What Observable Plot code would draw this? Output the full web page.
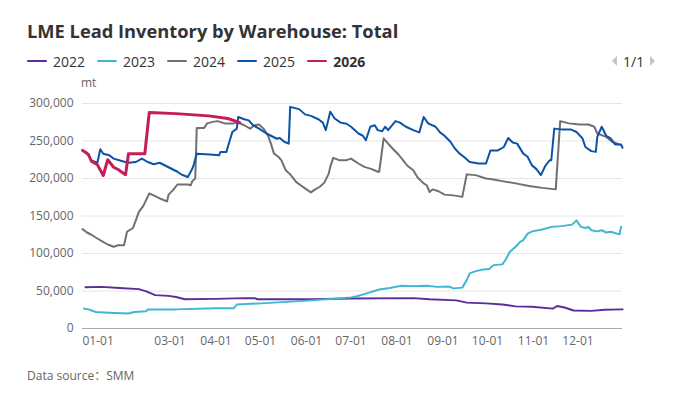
<!DOCTYPE html>
<html><head><meta charset="utf-8">
<script src="https://cdn.jsdelivr.net/npm/d3@7"></script>
<script src="https://cdn.jsdelivr.net/npm/@observablehq/plot@0.6"></script>
<style>
body{margin:0;background:#fff;font-family:"Open Sans",sans-serif;}
#wrap{position:relative;width:678px;height:398px;overflow:hidden;background:#fff;}
#title{position:absolute;left:27px;top:20px;height:22px;line-height:22px;font-size:18.3px;font-weight:700;color:#333;white-space:nowrap;}
#legend{position:absolute;left:27px;top:51px;height:20px;display:flex;align-items:center;gap:12px;font-size:14px;color:#333;}
.item{display:flex;align-items:center;}
.sw{width:20px;height:2.5px;margin-right:6px;border-radius:1px;}
#pager{position:absolute;left:612px;top:51px;height:20px;display:flex;align-items:center;font-size:14px;color:#333;}
.tl{width:0;height:0;border-top:5px solid transparent;border-bottom:5px solid transparent;border-right:5px solid #c4c4c4;margin-right:6px;}
.tr{width:0;height:0;border-top:5px solid transparent;border-bottom:5px solid transparent;border-left:5px solid #c4c4c4;margin-left:6px;}
#unit{position:absolute;left:81px;top:75px;line-height:16px;font-size:12px;color:#666;}
#chart{position:absolute;left:0;top:70px;}
#caption{position:absolute;left:27px;top:367px;line-height:16px;font-size:12px;color:#666;font-family:"Open Sans","Noto Sans CJK SC",sans-serif;}
</style></head><body>
<div id="wrap">
<div id="title">LME Lead Inventory by Warehouse: Total</div>
<div id="legend"></div>
<div id="pager"><div class="tl"></div><span>1/1</span><div class="tr"></div></div>
<div id="unit">mt</div>
<div id="chart"></div>
<div id="caption">Data source<span lang="zh-CN" style="font-family:'Noto Sans CJK SC'">：</span>SMM</div>
</div>
<script>
const years = ["2022", "2023", "2024", "2025", "2026"];
const colors = ["#5a2d9c", "#41b6d0", "#707070", "#0b53a8", "#c41d57"];

const dates2022 = ["01-03","01-14","01-26","02-08","02-13","02-19","02-28","03-05","03-11","04-01","04-20","04-27","04-29","06-04","07-01","08-12","08-23","09-10","09-17","09-30","10-11","10-20","10-31","11-14","11-17","11-22","11-28","12-10","12-19","12-31"];
const values2022 = [55000,55500,54000,52500,49500,44500,43500,42000,39000,39500,40500,40500,39000,39000,40000,40500,39000,37500,34500,33500,32000,29500,29000,26500,30000,28000,24000,23500,25000,25500];

const dates2023 = ["01-02","01-05","01-10","01-19","02-01","02-05","02-13","02-14","03-05","04-01","04-13","04-15","05-01","05-19","06-04","06-22","07-01","07-05","07-11","07-20","07-27","08-04","08-12","08-21","08-28","09-05","09-08","09-14","09-17","09-19","09-23","09-29","10-02","10-05","10-11","10-13","10-16","10-20","10-23","10-25","10-28","10-31","11-07","11-13","11-20","11-27","11-30","12-03","12-06","12-08","12-10","12-14","12-17","12-20","12-23","12-29","12-30"];
const values2023 = [26500,25500,22000,21000,20000,22000,23000,25500,25500,27000,27000,32000,33500,35500,37500,40000,41500,43000,46500,52000,54000,57000,56500,57000,55500,56000,53500,54500,64500,73500,76500,79000,79000,84500,85500,91000,102000,109000,115500,117500,126500,129500,132000,135500,136500,138500,144000,135500,134000,135500,131000,129500,131000,128000,129000,125500,135500];

const dates2024 = ["01-01","01-04","01-07","01-11","01-14","01-18","01-22","01-25","01-29","01-31","02-04","02-06","02-08","02-11","02-15","02-18","02-22","02-25","02-27","02-28","03-03","03-06","03-13","03-15","03-16","03-18","03-19","03-24","03-26","03-30","04-02","04-07","04-13","04-16","04-20","04-24","04-27","04-30","05-03","05-06","05-08","05-10","05-13","05-15","05-18","05-21","05-25","05-28","06-01","06-04","06-06","06-10","06-13","06-16","06-17","06-19","06-23","06-28","07-01","07-06","07-10","07-15","07-19","07-20","07-23","07-26","07-29","08-02","08-05","08-08","08-12","08-15","08-19","08-21","08-23","08-25","08-29","09-02","09-08","09-14","09-17","09-23","09-30","10-04","10-11","10-20","10-29","11-07","11-16","11-19","11-25","12-02","12-08","12-12","12-14","12-20","12-24","12-29"];
const values2024 = [132500,128000,125000,120000,116500,112000,109000,111000,111000,129000,134000,144500,155500,163500,180000,177500,173500,171000,169500,178500,184500,192000,192000,191000,196500,200000,267500,267500,273500,275500,276500,273500,273500,274500,271000,266500,271000,272000,266500,257500,246500,233500,229000,224500,211000,205500,195500,191000,185500,181500,184500,189000,194500,206500,215500,227500,224500,224500,226500,220000,215500,212500,209000,209000,253500,246500,240000,232000,224500,217000,211000,201000,193500,191000,182000,185500,183000,178500,177500,175500,205500,204500,200000,199000,196500,193500,190000,187500,185500,276500,273500,272000,272000,269000,260000,255500,249000,245500];

const dates2025 = ["01-01","01-04","01-07","01-11","01-13","01-15","01-19","01-22","01-28","02-01","02-06","02-10","02-14","02-18","02-22","02-26","03-03","03-06","03-09","03-13","03-16","03-17","03-19","03-28","04-03","04-04","04-08","04-10","04-12","04-15","04-16","04-20","04-23","04-26","04-30","05-05","05-08","05-12","05-14","05-17","05-20","05-21","05-27","05-31","06-04","06-09","06-12","06-14","06-17","06-20","06-24","06-28","07-01","07-06","07-09","07-11","07-14","07-17","07-19","07-22","07-24","07-26","07-31","08-03","08-07","08-12","08-16","08-19","08-22","08-27","08-30","09-02","09-06","09-09","09-12","09-15","09-19","09-25","09-30","10-03","10-08","10-12","10-15","10-18","10-21","10-25","10-28","10-31","11-03","11-06","11-09","11-12","11-13","11-15","11-20","11-26","11-30","12-04","12-06","12-10","12-13","12-14","12-17","12-20","12-23","12-26","12-30","12-31"];
const values2025 = [237500,234500,224000,221000,239000,233000,231000,226500,223000,221000,222000,226500,222000,219000,221000,217000,212000,209000,205000,202000,213000,218500,233000,232000,231000,235500,235500,249000,262000,266500,282000,279000,277500,271000,266500,260000,257000,253000,254000,249000,246500,295500,292500,285500,283500,279000,274500,264500,289000,280000,274500,273000,269000,260000,257000,251000,269000,271000,264500,263000,269000,264500,276500,274500,269000,264500,261500,282000,273500,269000,261500,257000,249000,240000,233500,229000,222000,220000,220000,237500,237500,242000,254000,248000,246500,233500,229000,217500,212500,204500,217000,224500,224500,266500,265500,265500,262000,253500,242000,236500,235500,255500,269000,257000,253500,245500,245500,241000];

const dates2026 = ["01-01","01-05","01-07","01-11","01-15","01-18","01-22","01-25","01-30","02-01","02-12","02-15","03-05","03-27","04-09","04-17"];
const values2026 = [237500,232000,223000,218500,204000,225000,215000,212000,205000,233000,233000,288000,286500,283500,280000,274500];

const yTicks = [0, 50000, 100000, 150000, 200000, 250000, 300000];
const xTickLabels = ["03-01","04-01","05-01","06-01","07-01","08-01","09-01","10-01","11-01","12-01"];
const firstTickLabel = "01-01";

const toDate = s => new Date(Date.UTC(2001, +s.slice(0, 2) - 1, +s.slice(3, 5)));
const fmt = d3.utcFormat("%m-%d");

const seriesDates = [dates2022, dates2023, dates2024, dates2025, dates2026];
const seriesValues = [values2022, values2023, values2024, values2025, values2026];
const series = years.map((y, i) => seriesDates[i].map((d, j) => ({year: y, date: toDate(d), value: seriesValues[i][j]})));

// legend
const legend = document.getElementById("legend");
years.forEach((y, i) => {
  const it = document.createElement("div");
  it.className = "item";
  const sw = document.createElement("div");
  sw.className = "sw";
  sw.style.background = colors[i];
  const tx = document.createElement("span");
  tx.textContent = y;
  if (i === years.length - 1) tx.style.fontWeight = "700";
  it.appendChild(sw); it.appendChild(tx);
  legend.appendChild(it);
});

const lineMarks = series.map((rows, i) => Plot.line(rows, {
  x: "date", y: "value", stroke: colors[i],
  strokeWidth: i === years.length - 1 ? 3 : 2,
  strokeLinejoin: "round", strokeLinecap: "round"
}));

const chart = Plot.plot({
  width: 678,
  height: 290,
  marginLeft: 82,
  marginRight: 56,
  marginTop: 33,
  marginBottom: 32,
  style: {fontFamily: "'Open Sans', sans-serif", fontSize: "12px", color: "#666", background: "transparent", overflow: "visible"},
  x: {type: "utc", domain: [toDate("01-01"), toDate("12-31")]},
  y: {domain: [0, 300000]},
  marks: [
    Plot.gridY(yTicks, {stroke: "#e6e6e6", strokeOpacity: 1}),
    Plot.ruleY([0], {stroke: "#a8a9b2", strokeWidth: 1}),
    Plot.axisY(yTicks, {tickSize: 0, tickPadding: 9, tickFormat: d3.format(","), label: null, fill: "#666"}),
    Plot.axisX(xTickLabels.map(toDate), {tickSize: 0, tickPadding: 8, tickFormat: fmt, label: null, fill: "#666"}),
    Plot.text([toDate(firstTickLabel)], {x: d => d, text: d => fmt(d), frameAnchor: "bottom", lineAnchor: "top", textAnchor: "start", dy: 8, fill: "#666"}),
    ...lineMarks
  ]
});
document.getElementById("chart").appendChild(chart);
</script>
</body></html>
